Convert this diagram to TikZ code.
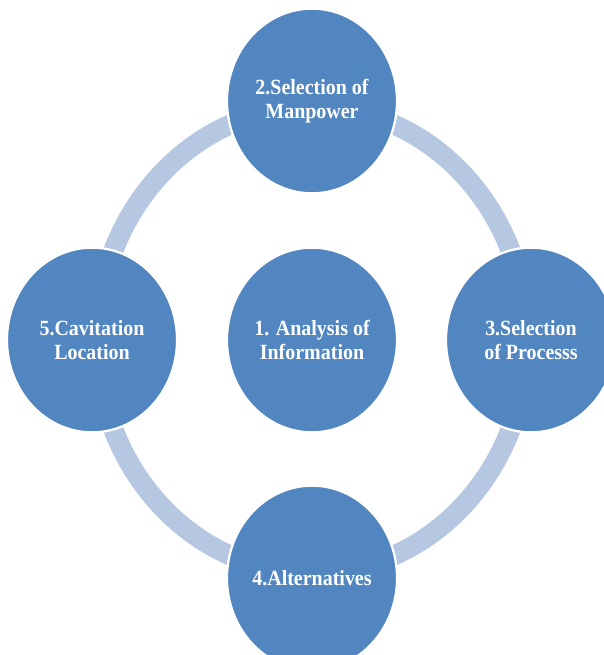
\documentclass[tikz,border=0pt]{standalone}
\usepackage{fontspec}
\setmainfont{Liberation Serif}
\usetikzlibrary{positioning}

\definecolor{stepblue}{RGB}{82,134,192}
\definecolor{ringblue}{RGB}{182,199,226}

\begin{document}
\begin{tikzpicture}[x=0.025cm, y=-0.025cm,
    stage/.style={circle, fill=stepblue, draw=white, line width=1.6pt,
                  minimum size=4.25cm, inner sep=0pt, align=center,
                  text=white, font=\bfseries\fontsize{14.2}{15.6}\selectfont,
                  yscale=1.086}]
  \useasboundingbox (0,0) rectangle (603,655);
  % Cycle ring behind the stages
  \draw[ringblue, line width=0.5cm] (312,340) ellipse [x radius=215, y radius=233];
  % Centre and outer stages
  \node[stage] (info)  at (312,340) {1. Analysis of\\Information};
  \node[stage] (man)   at (312,101) {2.Selection of\\Manpower};
  \node[stage] (proc)  at (531,340) {3.Selection\\of Processs};
  \node[stage] (alt)   at (312,578) {4.Alternatives};
  \node[stage] (loc)   at (92,340)  {5.Cavitation\\Location};
\end{tikzpicture}
\end{document}
